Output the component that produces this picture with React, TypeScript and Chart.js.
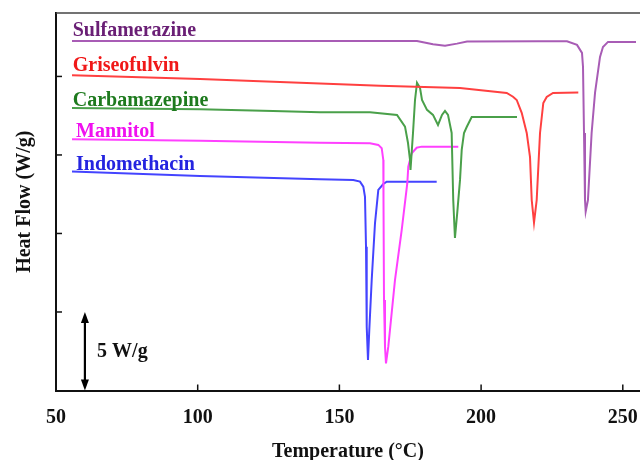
import React, { useEffect, useRef } from "react";
import { Chart, registerables } from "chart.js";

Chart.register(...registerables);

// ---- data (x: temperature °C, y: heat flow, offset W/g) ----
const sulfX = [55.65, 100, 150, 177.38, 183.03, 187.26, 191.5, 195.03, 220, 230.31, 233.84, 235.6, 235.96, 236.31, 236.66, 236.9, 237.7, 239.0, 240.2, 241.96, 243.0, 244.78, 254.66];
const sulfY = [22.26, 22.26, 22.26, 22.26, 22.05, 21.96, 22.09, 22.22, 22.24, 22.24, 22.01, 21.5, 20.61, 16.4, 12.13, 11.39, 12.13, 16.4, 18.95, 21.24, 21.88, 22.2, 22.2];

const grisX = [55.65, 100.81, 136.1, 164.33, 192.56, 209.04, 211.26, 212.57, 214.33, 216.1, 217.26, 217.86, 218.67, 219.62, 220.79, 221.95, 223.15, 225.37, 234.3];
const grisY = [20.08, 19.84, 19.6, 19.41, 19.27, 18.95, 18.71, 18.5, 17.68, 16.4, 14.87, 12.13, 10.69, 12.13, 16.4, 18.31, 18.69, 18.95, 18.97];

const carbX = [55.65, 100.81, 126.57, 143.15, 160.8, 170.33, 173.15, 174.21, 174.91, 175.09, 175.97, 176.68, 177.38, 178.44, 179.15, 180.91, 183.03, 184.79, 186.2, 187.26, 188.32, 189.61, 190.17, 190.77, 191.58, 192.56, 193.16, 193.97, 194.92, 196.68, 212.67];
const carbY = [17.99, 17.91, 17.8, 17.72, 17.72, 17.55, 16.8, 15.76, 14.68, 14.04, 16.4, 18.5, 19.59, 19.27, 18.5, 17.87, 17.55, 16.91, 17.55, 17.8, 17.55, 16.4, 12.13, 9.71, 11.31, 13.41, 15.32, 16.4, 16.78, 17.42, 17.42];

const mannX = [55.65, 100.81, 143.15, 160.8, 163.73, 164.93, 165.49, 165.56, 165.74, 166.09, 166.44, 167.25, 169.62, 171.98, 173.96, 174.31, 175.51, 177.27, 179.04, 191.95];
const mannY = [16.0, 15.91, 15.78, 15.75, 15.64, 15.43, 14.68, 12.13, 5.76, 2.79, 1.73, 2.79, 7.04, 10.22, 13.2, 14.25, 15.11, 15.46, 15.53, 15.53];

const indoX = [55.65, 100.81, 143.15, 154.91, 157.27, 158.44, 159.03, 159.39, 159.64, 160.09, 160.55, 161.4, 162.56, 163.73, 165.49, 166.69, 184.33];
const indoY = [13.94, 13.66, 13.45, 13.41, 13.3, 12.98, 12.34, 9.16, 4.06, 1.94, 3.85, 7.04, 10.65, 12.77, 13.15, 13.3, 13.3];

const seriesNames = ["Sulfamerazine", "Griseofulvin", "Carbamazepine", "Mannitol", "Indomethacin"];
const xTickValues = [50, 100, 150, 200, 250];
const yTickValues = [0, 5, 10, 15, 20];
const scaleBarValue = 5; // W/g
const scaleBarLabel = "5 W/g";

// ---- styles / annotation anchors (data units) ----
const lineColors = ["#a85cb5", "#ff4040", "#4aa04a", "#ff40ff", "#4444ff"];
const textColors = ["#6a1f75", "#f01818", "#1e7a1e", "#f010f0", "#2424e0"];
const labelAnchorX = [55.9, 55.9, 55.9, 57.06, 57.06];
const labelAnchorY = [22.58, 20.37, 18.12, 16.17, 14.04];
const scaleBarX = 60.2;
const scaleBarTextX = 64.5;
const X_MIN = 50;
const X_MAX = 256.07;
const Y_MIN = 0;
const Y_MAX = 24.04;

const FONT = "'Liberation Serif', 'Times New Roman', serif";

const decorPlugin = {
  id: "decor",
  afterDraw(chart: any) {
    const { ctx, chartArea: a, scales } = chart;
    const x = scales.x;
    const y = scales.y;
    ctx.save();
    // top frame line
    ctx.strokeStyle = "#444";
    ctx.lineWidth = 1.5;
    ctx.beginPath();
    ctx.moveTo(a.left, a.top);
    ctx.lineTo(a.right, a.top);
    ctx.stroke();
    // inward tick marks
    ctx.strokeStyle = "#111";
    ctx.lineWidth = 1.5;
    x.ticks.forEach((t: any) => {
      const px = x.getPixelForValue(t.value);
      if (Math.abs(px - a.left) < 3) return;
      ctx.beginPath();
      ctx.moveTo(px, a.bottom);
      ctx.lineTo(px, a.bottom - 6);
      ctx.stroke();
    });
    y.ticks.forEach((t: any) => {
      const py = y.getPixelForValue(t.value);
      if (Math.abs(py - a.bottom) < 3) return;
      ctx.beginPath();
      ctx.moveTo(a.left, py);
      ctx.lineTo(a.left + 6, py);
      ctx.stroke();
    });
    // series labels
    ctx.font = `bold 20px ${FONT}`;
    ctx.textAlign = "left";
    ctx.textBaseline = "alphabetic";
    seriesNames.forEach((n, i) => {
      ctx.fillStyle = textColors[i];
      ctx.fillText(n, x.getPixelForValue(labelAnchorX[i]), y.getPixelForValue(labelAnchorY[i]));
    });
    // scale bar arrow
    const bx = x.getPixelForValue(scaleBarX);
    const by0 = y.getPixelForValue(0);
    const by1 = y.getPixelForValue(scaleBarValue);
    ctx.strokeStyle = "#000";
    ctx.fillStyle = "#000";
    ctx.lineWidth = 2.2;
    ctx.beginPath();
    ctx.moveTo(bx, by0 - 8);
    ctx.lineTo(bx, by1 + 8);
    ctx.stroke();
    const head = (tipY: number, dir: number) => {
      ctx.beginPath();
      ctx.moveTo(bx, tipY);
      ctx.lineTo(bx - 4, tipY + dir * 11);
      ctx.lineTo(bx + 4, tipY + dir * 11);
      ctx.closePath();
      ctx.fill();
    };
    head(by1, 1);
    head(by0, -1);
    ctx.font = `bold 20px ${FONT}`;
    ctx.textBaseline = "middle";
    ctx.fillStyle = "#111";
    ctx.fillText(scaleBarLabel, x.getPixelForValue(scaleBarTextX), (by0 + by1) / 2 + 1);
    ctx.restore();
  },
};

export default function App() {
  const ref = useRef<HTMLCanvasElement | null>(null);
  useEffect(() => {
    if (!ref.current) return;
    const xs = [sulfX, grisX, carbX, mannX, indoX];
    const ys = [sulfY, grisY, carbY, mannY, indoY];
    const chart = new Chart(ref.current, {
      type: "line",
      data: {
        datasets: seriesNames.map((n, i) => ({
          label: n,
          data: xs[i].map((v, k) => ({ x: v, y: ys[i][k] })),
          borderColor: lineColors[i],
          borderWidth: 2,
          pointRadius: 0,
          tension: 0,
          fill: false,
        })),
      },
      options: {
        animation: false,
        responsive: false,
        events: [],
        layout: { padding: { top: 13, left: 0, right: 0, bottom: 0 }, autoPadding: false },
        plugins: { legend: { display: false }, tooltip: { enabled: false } },
        scales: {
          x: {
            type: "linear",
            min: X_MIN,
            max: X_MAX,
            afterBuildTicks: (s: any) => {
              s.ticks = xTickValues.map((v) => ({ value: v }));
            },
            afterFit: (s: any) => {
              s.height = 69.5;
              s.paddingLeft = 0;
              s.paddingRight = 0;
            },
            grid: { display: false, drawTicks: false },
            border: { display: true, color: "#111", width: 2 },
            ticks: {
              includeBounds: false,
              padding: 15,
              color: "#111",
              font: { family: FONT, size: 20, weight: "bold" },
              maxRotation: 0,
              autoSkip: false,
            },
            title: {
              display: true,
              text: "Temperature (°C)",
              color: "#111",
              font: { family: FONT, size: 20, weight: "bold" },
              padding: { top: -4, bottom: -4 },
            },
          },
          y: {
            type: "linear",
            min: Y_MIN,
            max: Y_MAX,
            afterBuildTicks: (s: any) => {
              s.ticks = yTickValues.map((v) => ({ value: v }));
            },
            afterFit: (s: any) => {
              s.width = 56;
              s.paddingTop = 0;
              s.paddingBottom = 0;
            },
            grid: { display: false, drawTicks: false },
            border: { display: true, color: "#111", width: 2 },
            ticks: { display: false, includeBounds: false },
            title: {
              display: true,
              text: "Heat Flow (W/g)",
              color: "#111",
              font: { family: FONT, size: 20, weight: "bold" },
              padding: { top: 13, bottom: 0 },
            },
          },
        },
      },
      plugins: [decorPlugin],
    } as any);
    return () => chart.destroy();
  }, []);
  return (
    <div style={{ position: "absolute", left: 0, top: 0, width: 640, height: 460, background: "#fff" }}>
      <canvas ref={ref} width={640} height={460} />
    </div>
  );
}
